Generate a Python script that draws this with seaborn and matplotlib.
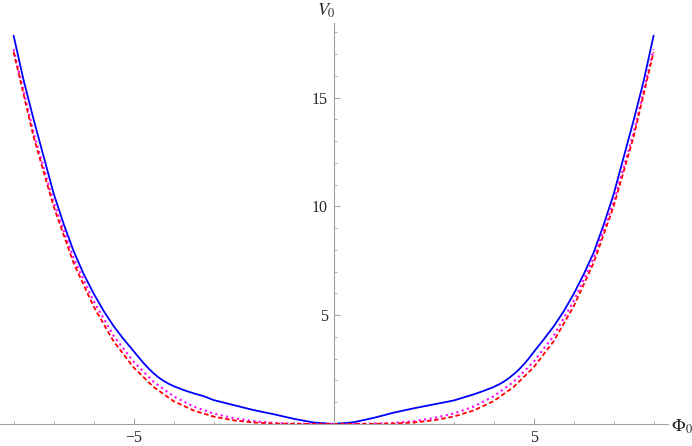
import numpy as np
import matplotlib
matplotlib.use("Agg")
import matplotlib.pyplot as plt
from matplotlib.ticker import MultipleLocator
import seaborn as sns

# values
phi_blue = [-8.0, -7.75, -7.5, -7.25, -7.0, -6.75, -6.5, -6.25, -6.0, -5.75, -5.5, -5.25,
            -5.0, -4.875, -4.75, -4.625, -4.5, -4.375, -4.25, -4.125, -4.0, -3.75, -3.5,
            -3.25, -3.0, -2.5, -2.0, -1.5, -1.0, -0.5, 0.0,
            0.5, 1.0, 1.5, 2.0, 2.5, 3.0, 3.25, 3.5, 3.75, 4.0, 4.125, 4.25, 4.375, 4.5,
            4.625, 4.75, 4.875, 5.0, 5.25, 5.5, 5.75,
            6.0, 6.25, 6.5, 6.75, 7.0, 7.25, 7.5, 7.75, 8.0]
v_blue = [17.85, 15.8, 14.0, 12.3, 10.6, 9.2, 7.95, 6.9, 6.0, 5.2, 4.5, 3.9,
          3.35, 3.07, 2.8, 2.55, 2.33, 2.14, 1.98, 1.85, 1.74, 1.56, 1.41,
          1.28, 1.1, 0.87, 0.64, 0.45, 0.24, 0.07, 0.0,
          0.08, 0.28, 0.52, 0.72, 0.9, 1.08, 1.22, 1.36, 1.52, 1.7, 1.81, 1.94, 2.1, 2.28,
          2.49, 2.73, 3.0, 3.3, 3.88, 4.48, 5.17,
          5.97, 6.87, 7.87, 9.15, 10.55, 12.25, 13.95, 15.75, 17.85]

phi_half = [0.0, 1.0, 1.5, 2.0, 2.5, 3.0, 3.5, 4.0, 4.5, 5.0, 5.5, 6.0, 6.5, 7.0, 7.5, 8.0]
v_red_half = [0.0, 0.005, 0.02, 0.07, 0.17, 0.34, 0.62, 1.05, 1.7, 2.6, 3.8, 5.4, 7.4, 10.0, 13.2, 17.1]
v_mag_half = [0.0, 0.015, 0.05, 0.13, 0.27, 0.48, 0.8, 1.27, 1.94, 2.86, 4.05, 5.65, 7.62, 10.2, 13.38, 17.22]

phi_sym = [-p for p in phi_half[:0:-1]] + phi_half
v_red = v_red_half[:0:-1] + v_red_half
v_mag = v_mag_half[:0:-1] + v_mag_half

sns.set_style("white")
plt.rcParams["font.family"] = ["Liberation Serif", "DejaVu Serif"]
plt.rcParams["mathtext.fontset"] = "stix"

fig = plt.figure(figsize=(6.92, 4.46), dpi=100)
ax = fig.add_axes([0, 22 / 446, 668 / 692, 401 / 446])

sns.lineplot(x=phi_blue, y=v_blue, color="#0000ff", linewidth=1.3, sort=False,
             estimator=None, ax=ax)
sns.lineplot(x=phi_sym, y=v_mag, color="#ff00ff", linewidth=1.5, linestyle=":",
             sort=False, estimator=None, ax=ax)
sns.lineplot(x=phi_sym, y=v_red, color="#ff0000", linewidth=1.3,
             sort=False, estimator=None, ax=ax)
ax.lines[-1].set_dashes([2.5, 1.5])

ax.set_xlim(-8.34, 8.36)
ax.set_ylim(0, 18.43)

axis_col = "#a0a0a0"
for s in ["top", "right"]:
    ax.spines[s].set_visible(False)
ax.spines["left"].set_position(("data", 0))
ax.spines["bottom"].set_position(("data", 0))
for s in ["left", "bottom"]:
    ax.spines[s].set_color(axis_col)
    ax.spines[s].set_linewidth(0.8)

ax.set_xticks([-5, 5])
ax.set_yticks([5, 10, 15])
ax.xaxis.set_minor_locator(MultipleLocator(1))
ax.yaxis.set_minor_locator(MultipleLocator(1))
ax.tick_params(which="both", bottom=True, left=True, top=False, right=False)
ax.tick_params(which="major", direction="in", length=4, width=0.7, color=axis_col,
               labelsize=11.5, pad=4)
ax.tick_params(which="minor", direction="in", length=2.2, width=0.6, color=axis_col)
ax.set_xticklabels(["\u22125", "5"])
ax.set_xlabel("")
ax.set_ylabel("")

ax.text(-0.19, 18.99, r"$V_0$", fontsize=13, ha="center", va="center", clip_on=False)
ax.text(8.71, -0.14, r"$\Phi_0$", fontsize=13, ha="center", va="center", clip_on=False)

plt.savefig("out.png", dpi=100)
